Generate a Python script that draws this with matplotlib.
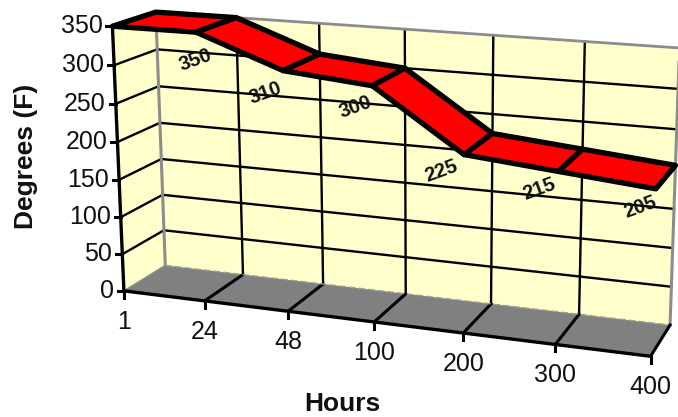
import numpy as np
import matplotlib
matplotlib.use('Agg')
import matplotlib.pyplot as plt

plt.rcParams['font.family'] = ['Liberation Sans', 'DejaVu Sans']

hours = ['1', '24', '48', '100', '200', '300', '400']
degrees = [350, 350, 310, 300, 225, 215, 205]
y_ticks = [0, 50, 100, 150, 200, 250, 300, 350]
labelled = [1, 2, 3, 4, 5, 6]

YELLOW = '#FFFFCC'
FLOOR = '#808080'
EDGE = '#8C8C8C'

# pixel positions of known chart corners, used to fit the 3D view
# (category, degrees, depth) -> (px, py)
calib_3d = [(0, 0, 0), (6, 0, 0), (0, 0, 1), (6, 0, 1), (0, 350, 0), (0, 350, 1),
            (6, 350, 1), (6, 205, 0), (6, 205, 1), (3, 300, 0), (3, 300, 1)]
calib_px = [(124, 291), (650, 356), (165, 265), (670, 325), (112, 27), (156, 12),
            (678, 47), (656, 190), (677, 166), (373, 84), (405, 69)]


def fit_view(pts, px):
    """Direct linear transform, gives a 3x4 projection matrix"""
    rows = []
    for (x, y, z), (u, v) in zip(pts, px):
        p = [x, y / 350, z, 1]
        rows.append(p + [0, 0, 0, 0] + [-u * c for c in p])
        rows.append([0, 0, 0, 0] + p + [-v * c for c in p])
    return np.linalg.svd(np.array(rows))[2][-1].reshape(3, 4)


VIEW = fit_view(calib_3d, calib_px)


def proj(x, y, z):
    h = VIEW @ np.array([x, y / 350, z, 1])
    return h[0] / h[2], h[1] / h[2]


def poly(ax, pts, **kw):
    ax.fill(*zip(*[proj(*p) for p in pts]), **kw)


def seg(ax, a, b, color='black', lw=1.7, **kw):
    ax.plot(*zip(proj(*a), proj(*b)), color=color, lw=lw, **kw)


def main():
    fig = plt.figure(figsize=(6.78, 4.17), dpi=100)
    ax = fig.add_axes([0, 0, 1, 1])
    ax.set_xlim(0, 678)
    ax.set_ylim(417, 0)
    ax.axis('off')

    n = len(hours) - 1
    top = y_ticks[-1]

    # walls and floor
    poly(ax, [(0, 0, 0), (0, 0, 1), (0, top, 1), (0, top, 0)], fc=YELLOW, ec='none')
    poly(ax, [(0, 0, 1), (n, 0, 1), (n, top, 1), (0, top, 1)], fc=YELLOW, ec='none')
    poly(ax, [(0, 0, 0), (n, 0, 0), (n, 0, 1), (0, 0, 1)], fc=FLOOR, ec='none')

    # gridlines
    for v in y_ticks[1:-1]:
        seg(ax, (0, v, 0), (0, v, 1))
        seg(ax, (0, v, 1), (n, v, 1))
    for i in range(1, n):
        seg(ax, (i, 0, 1), (i, top, 1))
        seg(ax, (i, 0, 0), (i, 0, 1), lw=2.2)

    # wall edges
    seg(ax, (0, 0, 1), (0, top, 1), color=EDGE, lw=2.2)
    seg(ax, (0, top, 1), (n, top, 1), color=EDGE, lw=2)
    seg(ax, (n, 0, 1), (n, top, 1), color=EDGE, lw=2.2)
    seg(ax, (0, 0, 1), (n, 0, 1), color='#A0A090', lw=1, ls=(0, (5, 2)))
    seg(ax, (0, 0, 0), (0, 0, 1), color=EDGE, lw=1)
    seg(ax, (n, 0, 0), (n, 0, 1), lw=2.2)

    # axes and ticks
    seg(ax, (0, 0, 0), (0, top, 0), lw=2.4)
    seg(ax, (0, 0, 0), (n, 0, 0), lw=2.4)
    for v in y_ticks:
        px, py = proj(0, v, 0)
        ax.plot([px - 6, px], [py, py], color='black', lw=2.2)
        ax.text(px - 10, py, str(v), ha='right', va='center', fontsize=18, color='#111111')
    for i, lab in enumerate(hours):
        px, py = proj(i, 0, 0)
        ax.plot([px, px], [py, py + 7], color='black', lw=2.2)
        ax.text(px, py + 31, lab, ha='center', va='center', fontsize=18, color='#111111')

    # ribbon
    for i in range(n):
        a, b = degrees[i], degrees[i + 1]
        poly(ax, [(i, a, 0), (i + 1, b, 0), (i + 1, b, 1), (i, a, 1)],
             fc='#FF0000', ec='black', lw=3.8, joinstyle='round', zorder=5)

    # data labels, placed under the front edge of the ribbon
    offsets = [(-1, 28), (-18, 22), (-17, 21), (-23, 16), (-19, 18), (-16, 18)]
    for i, (dx, dy) in zip(labelled, offsets):
        px, py = proj(i, degrees[i], 0)
        ax.text(px + dx, py + dy, str(degrees[i]), ha='center', va='center', fontsize=14.5,
                fontweight='bold', rotation=20, rotation_mode='anchor', color='#111111', zorder=6)

    ax.text(26, 156, 'Degrees (F)', rotation=90, ha='center', va='center',
            fontsize=19, fontweight='bold', color='#111111')
    ax.text(342, 404, 'Hours', ha='center', va='center', fontsize=19,
            fontweight='bold', color='#111111')

    fig.savefig('out.png', dpi=100)


if __name__ == '__main__':
    main()
